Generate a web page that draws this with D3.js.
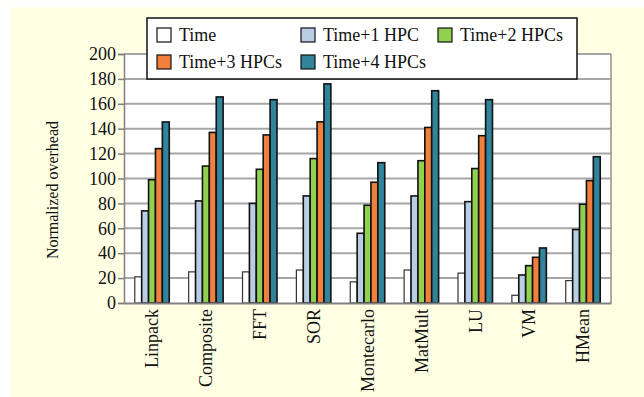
<!DOCTYPE html>
<html><head><meta charset="utf-8">
<script src="https://cdn.jsdelivr.net/npm/d3@7"></script>
<style>body{margin:0;background:#fff}svg{display:block}</style>
</head><body><svg id="c" width="644" height="397"></svg>
<script>
const categories = ["Linpack","Composite","FFT","SOR","Montecarlo","MatMult","LU","VM","HMean"];
const seriesNames = ["Time","Time+1 HPC","Time+2 HPCs","Time+3 HPCs","Time+4 HPCs"];
const seriesColors = ["#FFFFFF","#B9CDE5","#92D050","#F0803C","#31849B"];
const timeVals  = [21, 25, 25, 26.5, 17, 26.5, 24, 6.2, 18];
const hpc1Vals  = [74, 82, 80, 86, 56, 86, 81.4, 22.5, 59];
const hpc2Vals  = [99, 110, 107.4, 116, 78.5, 114.3, 108, 30, 79.3];
const hpc3Vals  = [124, 137, 135, 145.5, 97, 141, 134.4, 36.7, 98.3];
const hpc4Vals  = [145.4, 165.5, 163.3, 176, 112.7, 170.5, 163.3, 44.2, 117.5];
const yTicks = [0,20,40,60,80,100,120,140,160,180,200];
const series = [timeVals, hpc1Vals, hpc2Vals, hpc3Vals, hpc4Vals];

const svg = d3.select("#c");
const font = "'Liberation Serif','Times New Roman',serif";
svg.append("rect").attr("x",10).attr("y",7).attr("width",634).attr("height",390).attr("fill","#FFFFE3");

const L=124,R=611,T=54,B=303;
const x0 = d3.scaleBand().domain(categories).range([L,R]).paddingInner(0.36).paddingOuter(0.2);
const x1 = d3.scaleBand().domain(d3.range(series.length)).range([0,x0.bandwidth()]);
const y = d3.scaleLinear().domain([0,200]).range([B,T]);

svg.append("rect").attr("x",L).attr("y",T).attr("width",R-L).attr("height",B-T).attr("fill","#fff");
// gridlines
svg.append("g").selectAll("line").data(yTicks.filter(d=>d>0)).join("line")
  .attr("x1",L).attr("x2",R).attr("y1",d=>y(d)).attr("y2",d=>y(d))
  .attr("stroke","#A6A6A6").attr("stroke-width",2);
svg.append("line").attr("x1",R).attr("x2",R).attr("y1",T).attr("y2",B).attr("stroke","#909090").attr("stroke-width",1.5);

// bars
const g = svg.append("g");
categories.forEach((c,ci)=>{
  series.forEach((s,si)=>{
    g.append("rect")
      .attr("x",x0(c)+x1(si)).attr("width",x1.bandwidth())
      .attr("y",y(s[ci])).attr("height",y(0)-y(s[ci]))
      .attr("fill",seriesColors[si])
      .attr("stroke", si===0?"#333":"#111")
      .attr("stroke-width", si===0?1.2:1.6);
  });
});

// y axis
const ya = svg.append("g").attr("transform",`translate(${L},0)`)
  .call(d3.axisLeft(y).tickValues(yTicks).tickSize(6).tickPadding(2));
ya.select(".domain").attr("stroke","#808080").attr("stroke-width",1.5);
ya.selectAll(".tick line").attr("stroke","#808080").attr("stroke-width",1.5);
ya.selectAll("text").attr("font-family",font).attr("font-size",18).attr("fill","#111");

// x axis
const xa = svg.append("g").attr("transform",`translate(0,${B})`)
  .call(d3.axisBottom(x0).tickSize(0).tickPadding(0));
xa.select(".domain").attr("stroke","#808080").attr("stroke-width",2);
xa.selectAll("text").attr("font-family",font).attr("font-size",18).attr("fill","#111")
  .attr("transform","rotate(-90)").attr("text-anchor","end").attr("dy","0.35em").attr("x",-6).attr("y",0);

// y label
svg.append("text").attr("transform","translate(58,190) rotate(-90)")
  .attr("text-anchor","middle").attr("font-family",font).attr("font-size",16).attr("fill","#111")
  .text("Normalized overhead");

// legend
const lg = svg.append("g");
lg.append("rect").attr("x",147).attr("y",18).attr("width",430).attr("height",61)
  .attr("fill","#fff").attr("stroke","#111").attr("stroke-width",1.5);
const legPos = [[157,35],[301,35],[438,35],[157,62],[301,62]];
seriesNames.forEach((n,i)=>{
  const [lx,ly]=legPos[i];
  lg.append("rect").attr("x",lx).attr("y",ly-7).attr("width",14).attr("height",14)
    .attr("fill",seriesColors[i]).attr("stroke","#111").attr("stroke-width",1.2);
  lg.append("text").attr("x",lx+22).attr("y",ly).attr("dy","0.35em")
    .attr("font-family",font).attr("font-size",18).attr("fill","#111").text(n);
});
</script></body></html>
